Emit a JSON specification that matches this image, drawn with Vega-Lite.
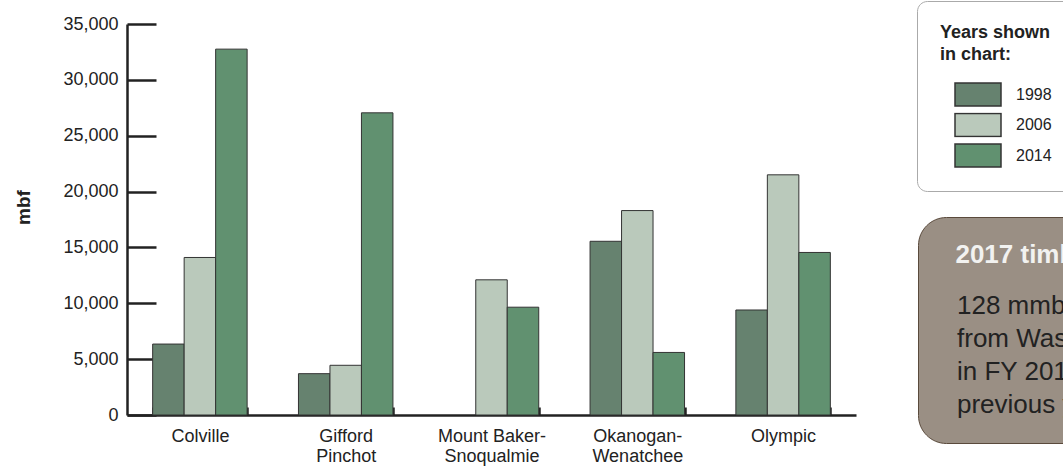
{
  "$schema": "https://vega.github.io/schema/vega-lite/v6.json",
  "width": 729,
  "height": 391,
  "autosize": {"type": "none"},
  "padding": {"left": 127, "top": 24, "right": 207, "bottom": 53},
  "background": "white",
  "config": {
    "font": "Liberation Sans",
    "view": {"stroke": null},
    "axis": {"grid": false}
  },
  "layer": [
    {
      "data": {
        "values": [
          {"forest": "Colville", "year": "1998", "mbf": 6350},
          {"forest": "Colville", "year": "2006", "mbf": 14100},
          {"forest": "Colville", "year": "2014", "mbf": 32750},
          {"forest": "Gifford Pinchot", "year": "1998", "mbf": 3700},
          {"forest": "Gifford Pinchot", "year": "2006", "mbf": 4450},
          {"forest": "Gifford Pinchot", "year": "2014", "mbf": 27050},
          {"forest": "Mount Baker-Snoqualmie", "year": "1998", "mbf": null},
          {"forest": "Mount Baker-Snoqualmie", "year": "2006", "mbf": 12100},
          {"forest": "Mount Baker-Snoqualmie", "year": "2014", "mbf": 9650},
          {"forest": "Okanogan-Wenatchee", "year": "1998", "mbf": 15550},
          {"forest": "Okanogan-Wenatchee", "year": "2006", "mbf": 18300},
          {"forest": "Okanogan-Wenatchee", "year": "2014", "mbf": 5600},
          {"forest": "Olympic", "year": "1998", "mbf": 9400},
          {"forest": "Olympic", "year": "2006", "mbf": 21500},
          {"forest": "Olympic", "year": "2014", "mbf": 14550}
        ]
      },
      "mark": {"type": "bar", "stroke": "#333333", "strokeWidth": 1},
      "encoding": {
        "x": {
          "field": "forest",
          "type": "nominal",
          "sort": ["Colville", "Gifford Pinchot", "Mount Baker-Snoqualmie", "Okanogan-Wenatchee", "Olympic"],
          "scale": {"paddingInner": 0.352, "paddingOuter": 0.176},
          "axis": {
            "title": null,
            "labelAngle": 0,
            "labelFontSize": 18,
            "labelColor": "#222222",
            "labelLineHeight": 20,
            "labelPadding": 20,
            "labelExpr": "datum.value == 'Gifford Pinchot' ? ['Gifford', 'Pinchot'] : datum.value == 'Mount Baker-Snoqualmie' ? ['Mount Baker-', 'Snoqualmie'] : datum.value == 'Okanogan-Wenatchee' ? ['Okanogan-', 'Wenatchee'] : datum.label",
            "tickBand": "extent",
            "tickSize": -8,
            "tickWidth": 2.5,
            "tickColor": "#222222",
            "domainWidth": 2.5,
            "domainColor": "#222222"
          }
        },
        "xOffset": {
          "field": "year",
          "type": "nominal",
          "scale": {"paddingInner": 0, "paddingOuter": 0}
        },
        "y": {
          "field": "mbf",
          "type": "quantitative",
          "scale": {"domain": [0, 35000], "nice": false},
          "axis": {
            "title": "mbf",
            "titleFontSize": 19,
            "titleFontWeight": "bold",
            "titleColor": "#222222",
            "titleX": -104,
            "titleY": 183,
            "titleBaseline": "middle",
            "titleAlign": "center",
            "values": [0, 5000, 10000, 15000, 20000, 25000, 30000, 35000],
            "format": ",.0f",
            "labelFontSize": 18,
            "labelColor": "#222222",
            "labelPadding": 38,
            "tickSize": -29,
            "tickWidth": 2.5,
            "tickColor": "#222222",
            "domainWidth": 2.5,
            "domainColor": "#222222"
          }
        },
        "color": {
          "field": "year",
          "type": "nominal",
          "scale": {"domain": ["1998", "2006", "2014"], "range": ["#66826f", "#bac9bb", "#619170"]},
          "legend": {
            "orient": "none",
            "legendX": 790,
            "legendY": -23,
            "title": ["Years shown", "in chart:"],
            "titleFontSize": 18,
            "titleFontWeight": "bold",
            "titleColor": "#222222",
            "titleLineHeight": 22,
            "titlePadding": 18,
            "symbolType": "M-1,-0.5H1V0.5H-1Z",
            "symbolSize": 2116,
            "symbolStrokeColor": "#333333",
            "symbolStrokeWidth": 1.5,
            "symbolOffset": 14,
            "symbolOpacity": 1,
            "clipHeight": 25,
            "labelFontSize": 16,
            "labelColor": "#222222",
            "labelOffset": 14,
            "rowPadding": 5.5,
            "fillColor": "white",
            "strokeColor": "#aaaaaa",
            "cornerRadius": 10,
            "padding": 23
          }
        }
      }
    },
    {
      "data": {
        "values": [
          {"line": "128 mmbf of timber was sold"},
          {"line": "from Washington's national forests"},
          {"line": "in FY 2017, up from the"},
          {"line": "previous year."}
        ]
      },
      "mark": {"type": "point", "opacity": 0},
      "encoding": {
        "shape": {
          "field": "line",
          "type": "nominal",
          "scale": {"domain": ["128 mmbf of timber was sold", "from Washington's national forests", "in FY 2017, up from the", "previous year."]},
          "legend": {
            "orient": "none",
            "legendX": 791,
            "legendY": 193,
            "title": "\u200b\u00a0\u20092017 timber sales",
            "titleFontSize": 26,
            "titleFontWeight": "bold",
            "titleColor": "#f2f2f0",
            "titlePadding": 25,
            "labelFontSize": 26,
            "labelColor": "#222222",
            "labelOffset": -12,
            "labelLimit": 0,
            "symbolSize": 1,
            "symbolOpacity": 0,
            "symbolStrokeWidth": 0,
            "rowPadding": 7,
            "fillColor": "#9a8f84",
            "strokeColor": "#5a4a3c",
            "cornerRadius": 28,
            "padding": 25
          }
        }
      }
    }
  ]
}
